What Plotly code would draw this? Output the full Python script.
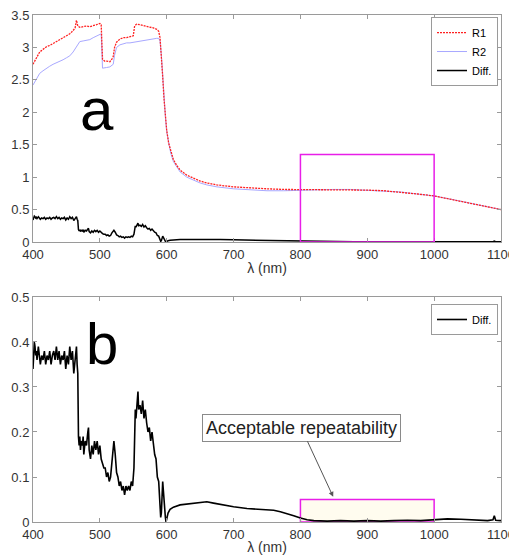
import plotly.graph_objects as go

# ---------------- data ----------------
wl_r = [400, 403, 406, 410, 415, 420, 425, 430, 435, 440, 445, 450, 455, 460, 463, 465, 467,
        470, 475, 480, 485, 490, 495, 500, 502, 504, 507, 510, 515, 518, 520, 522, 525, 530,
        535, 540, 545, 550, 552, 555, 560, 565, 570, 575, 580, 585, 588, 590, 592, 594, 596,
        598, 600, 603, 606, 610, 615, 620, 630, 640, 650, 660, 675, 700, 725, 750, 775, 800,
        825, 850, 875, 900, 925, 950, 975, 1000, 1025, 1050, 1075, 1100]

R1 = [2.74, 2.80, 2.87, 2.93, 2.97, 3.01, 3.03, 3.06, 3.09, 3.12, 3.14, 3.17, 3.21, 3.26, 3.30, 3.42, 3.33,
      3.31, 3.32, 3.33, 3.32, 3.33, 3.35, 3.37, 3.35, 2.82, 2.79, 2.79, 2.78, 2.82, 2.86, 3.00, 3.08, 3.13,
      3.15, 3.15, 3.16, 3.18, 3.33, 3.36, 3.35, 3.34, 3.33, 3.32, 3.30, 3.28, 3.25, 3.15, 2.90, 2.55, 2.20,
      1.95, 1.72, 1.52, 1.40, 1.27, 1.18, 1.11, 1.03, 0.98, 0.94, 0.91, 0.88, 0.85, 0.83, 0.82, 0.81, 0.81,
      0.81, 0.81, 0.81, 0.80, 0.79, 0.77, 0.74, 0.71, 0.66, 0.61, 0.56, 0.50]

R2 = [2.42, 2.48, 2.54, 2.60, 2.64, 2.68, 2.71, 2.74, 2.76, 2.79, 2.81, 2.84, 2.87, 2.93, 2.98, 3.02, 3.06,
      3.09, 3.10, 3.11, 3.12, 3.15, 3.18, 3.20, 3.21, 2.68, 2.68, 2.69, 2.70, 2.72, 2.74, 2.88, 3.00, 3.04,
      3.06, 3.07, 3.07, 3.08, 3.08, 3.09, 3.10, 3.11, 3.12, 3.12, 3.13, 3.14, 3.14, 3.10, 2.88, 2.53, 2.18,
      1.93, 1.70, 1.50, 1.37, 1.24, 1.15, 1.08, 1.00, 0.95, 0.91, 0.88, 0.85, 0.82, 0.80, 0.79, 0.79, 0.80,
      0.80, 0.81, 0.81, 0.80, 0.79, 0.77, 0.74, 0.71, 0.66, 0.61, 0.56, 0.50]

wl_d = [400, 401, 402, 403, 404, 405, 406, 408, 410, 411, 413, 415, 417, 419, 421, 423, 425, 427, 429,
        431, 433, 435, 437, 439, 441, 443, 445, 447, 449, 451, 453, 455, 457, 459, 461, 463, 465, 466,
        467, 468, 469, 470, 471, 472, 474, 475, 476, 478, 480, 482, 483, 484, 486, 488, 490, 492, 494,
        496, 498, 500, 502, 504, 506, 508, 510, 512, 514, 516, 518, 520, 521, 523, 525, 527, 529, 531,
        533, 535, 537, 539, 541, 543, 545, 547, 549, 551, 552, 553, 554, 556, 557, 558, 560, 562, 564,
        566, 568, 570, 572, 574, 576, 578, 580, 582, 584, 586, 588, 590, 591, 592, 593, 594, 595, 596,
        598, 599, 600, 602, 605, 610, 620, 630, 640, 650, 660, 670, 680, 700, 720, 740, 760, 770, 780,
        790, 800, 810, 820, 840, 860, 880, 900, 920, 940, 960, 980, 1000, 1020, 1040, 1060, 1080, 1088,
        1090, 1092, 1100]

Diff = [0.34, 0.37, 0.40, 0.39, 0.37, 0.38, 0.36, 0.39, 0.37, 0.35, 0.37, 0.36, 0.38, 0.35, 0.37, 0.36, 0.38, 0.35, 0.37,
        0.38, 0.36, 0.39, 0.36, 0.38, 0.35, 0.37, 0.36, 0.38, 0.34, 0.37, 0.35, 0.39, 0.36, 0.38, 0.33, 0.37, 0.39, 0.35,
        0.33, 0.19, 0.17, 0.19, 0.16, 0.18, 0.17, 0.19, 0.15, 0.18, 0.17, 0.20, 0.21, 0.16, 0.14, 0.17, 0.15, 0.18, 0.16,
        0.18, 0.15, 0.17, 0.14, 0.13, 0.12, 0.12, 0.10, 0.11, 0.09, 0.10, 0.14, 0.17, 0.18, 0.15, 0.11, 0.10, 0.08, 0.09,
        0.07, 0.08, 0.06, 0.08, 0.07, 0.08, 0.07, 0.09, 0.08, 0.12, 0.22, 0.25, 0.23, 0.27, 0.29, 0.25, 0.26, 0.24, 0.27,
        0.23, 0.25, 0.22, 0.20, 0.21, 0.18, 0.20, 0.17, 0.15, 0.14, 0.10, 0.09, 0.04, 0.01, 0.02, 0.06, 0.09, 0.07, 0.04,
        0.01, 0.00, 0.01, 0.02, 0.028, 0.033, 0.038, 0.040, 0.041, 0.043, 0.045, 0.042, 0.039, 0.034, 0.030, 0.028, 0.026, 0.023, 0.019,
        0.014, 0.009, 0.005, 0.003, 0.002, 0.003, 0.002, 0.003, 0.002, 0.003, 0.004, 0.003, 0.005, 0.007, 0.006, 0.004, 0.003, 0.005,
        0.014, 0.004, 0.003]

x_ticks = [400, 500, 600, 700, 800, 900, 1000, 1100]
x_title = "λ (nm)"
box_x = [800, 1000]
box_top_a = 1.35
box_top_b = 0.05
note_text = "Acceptable repeatability"

# ---------------- figure ----------------
FONT = "Liberation Sans, Arial, sans-serif"
fig = go.Figure()

fig.add_trace(go.Scatter(x=wl_r, y=R2, name="R2", mode="lines", legendrank=2,
                         line=dict(color="#a8a8ff", width=1), xaxis="x", yaxis="y", legend="legend"))
fig.add_trace(go.Scatter(x=wl_r, y=R1, name="R1", mode="lines", legendrank=1,
                         line=dict(color="#ff2020", width=1.3, dash="2px,1px"), xaxis="x", yaxis="y", legend="legend"))
fig.add_trace(go.Scatter(x=wl_d, y=Diff, name="Diff.", mode="lines", legendrank=3,
                         line=dict(color="black", width=1.5), xaxis="x", yaxis="y", legend="legend"))
fig.add_trace(go.Scatter(x=wl_d, y=Diff, name="Diff.", mode="lines",
                         line=dict(color="black", width=1.6), xaxis="x2", yaxis="y2", legend="legend2"))

axis_common = dict(showline=True, linecolor="#9a9a9a", linewidth=1, mirror="ticks",
                   ticks="inside", ticklen=4, tickcolor="#9a9a9a", showgrid=False, zeroline=False,
                   automargin=False, ticklabeloverflow="allow",
                   tickfont=dict(family=FONT, size=13, color="#333333"))

# page body has an 8px margin, so the figure is 8px smaller than the window
fig.update_layout(
    template="none",
    width=509, height=547,
    margin=dict(l=25, r=16, t=7, b=33),
    paper_bgcolor="white", plot_bgcolor="white",
    font=dict(family=FONT, color="#222222"),
    xaxis=dict(domain=[0, 1], anchor="y", range=[400, 1100], tickvals=x_ticks,
               title=dict(text=x_title, font=dict(size=14, color="#333333"), standoff=2), **axis_common),
    yaxis=dict(domain=[0.5523, 1], anchor="x", range=[0, 3.5], dtick=0.5, **axis_common),
    xaxis2=dict(domain=[0, 1], anchor="y2", range=[400, 1100], tickvals=x_ticks,
                title=dict(text=x_title, font=dict(size=14, color="#333333"), standoff=2), **axis_common),
    yaxis2=dict(domain=[0, 0.4438], anchor="x2", range=[0, 0.5], dtick=0.1, **axis_common),
    legend=dict(x=0.9936, xanchor="right", y=0.996, yanchor="top", bgcolor="white",
                bordercolor="#9a9a9a", borderwidth=1, font=dict(size=11, color="black"),
                tracegroupgap=0, itemwidth=30),
    legend2=dict(x=0.9936, xanchor="right", y=0.43, yanchor="top", bgcolor="white",
                 bordercolor="#9a9a9a", borderwidth=1, font=dict(size=11, color="black"),
                 itemwidth=30),
    showlegend=True,
)

fig.add_shape(type="rect", xref="x", yref="y", x0=box_x[0], x1=box_x[1], y0=0, y1=box_top_a,
              line=dict(color="#e81ee8", width=1.5))
fig.add_shape(type="rect", xref="x2", yref="y2", x0=box_x[0], x1=box_x[1], y0=0, y1=box_top_b,
              line=dict(color="#e81ee8", width=1.5), fillcolor="#fffcef", layer="below")

fig.add_annotation(xref="x", yref="y", x=495, y=2.05, text="a", showarrow=False,
                   font=dict(family=FONT, size=60, color="black"))
fig.add_annotation(xref="x2", yref="y2", x=503, y=0.396, text="b", showarrow=False,
                   font=dict(family=FONT, size=58, color="black"))
fig.add_annotation(xref="x2", yref="y2", x=849, y=0.056, text=note_text, showarrow=True,
                   ax=-32, ay=-69, arrowcolor="#555555", arrowwidth=1, arrowhead=2, arrowsize=1,
                   bgcolor="white", bordercolor="#8a8a8a", borderwidth=1, borderpad=3,
                   font=dict(family=FONT, size=18, color="#222222"))

fig.write_html("out.html")
